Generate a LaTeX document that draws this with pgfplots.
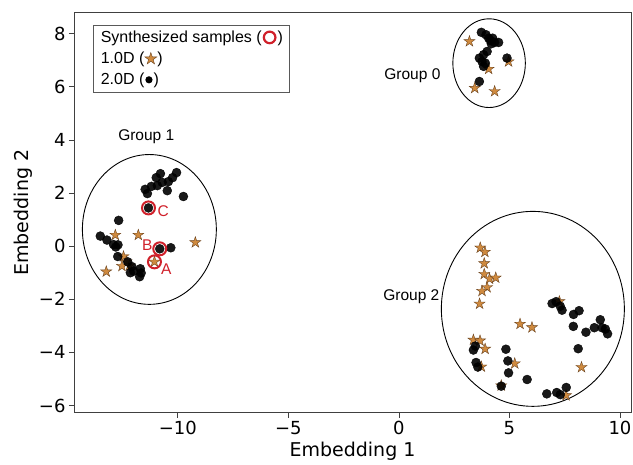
\documentclass[border=0pt]{standalone}
\usepackage{fontspec}
\setmainfont{DejaVu Sans}
\newfontfamily\arial{Liberation Sans}
\usepackage{pgfplots}
\usepackage{pgfplotstable}
\pgfplotsset{compat=1.18}
\definecolor{starfill}{HTML}{CF8A3F}
\definecolor{staredge}{HTML}{6B4420}
\definecolor{synred}{HTML}{D0202A}

% filled five-point star, like matplotlib's '*'
\pgfdeclareplotmark{fstar}{%
  \pgfpathmoveto{\pgfpointpolar{90}{\pgfplotmarksize}}%
  \pgfpathlineto{\pgfpointpolar{126}{0.382\pgfplotmarksize}}%
  \pgfpathlineto{\pgfpointpolar{162}{\pgfplotmarksize}}%
  \pgfpathlineto{\pgfpointpolar{198}{0.382\pgfplotmarksize}}%
  \pgfpathlineto{\pgfpointpolar{234}{\pgfplotmarksize}}%
  \pgfpathlineto{\pgfpointpolar{270}{0.382\pgfplotmarksize}}%
  \pgfpathlineto{\pgfpointpolar{306}{\pgfplotmarksize}}%
  \pgfpathlineto{\pgfpointpolar{342}{0.382\pgfplotmarksize}}%
  \pgfpathlineto{\pgfpointpolar{18}{\pgfplotmarksize}}%
  \pgfpathlineto{\pgfpointpolar{54}{0.382\pgfplotmarksize}}%
  \pgfpathclose
  \pgfusepathqfillstroke
}

% 1.0D samples
\pgfplotstableread{
x y
3.19 7.71
4.06 6.67
4.96 6.95
3.43 5.95
4.33 5.83
-12.83 0.42
-11.79 0.42
-9.21 0.14
-12.46 -0.39
-12.32 -0.58
-12.53 -0.75
-12.19 -0.73
-13.24 -0.96
-11.06 -0.59
3.68 -0.06
3.89 -0.22
3.86 -0.65
3.86 -1.05
4.10 -1.23
4.38 -1.19
3.99 -1.55
3.76 -1.69
3.65 -2.17
5.48 -2.93
6.02 -3.06
3.37 -3.53
3.67 -3.56
3.90 -3.87
3.73 -4.54
5.24 -4.42
8.26 -4.56
7.26 -2.08
7.56 -5.62
4.63 -5.25
}\stars

% 2.0D samples
\pgfplotstableread{
x y
3.73 8.05
3.94 7.96
4.06 7.83
4.14 7.74
4.24 7.83
4.33 7.67
4.51 7.67
4.18 7.62
3.99 7.33
3.83 7.21
3.64 7.08
3.76 6.95
3.91 6.89
3.83 6.77
4.89 7.08
3.64 6.20
-10.79 2.73
-10.06 2.77
-10.24 2.58
-10.43 2.43
-10.71 2.40
-10.98 2.58
-10.93 2.28
-11.20 2.25
-11.48 2.14
-11.38 1.98
-10.48 2.09
-9.75 1.87
-11.33 1.44
-12.68 0.97
-13.51 0.38
-13.21 0.23
-12.91 0.06
-12.71 0.05
-12.81 -0.03
-12.72 -0.39
-12.27 -0.59
-12.08 -0.77
-11.70 -0.85
-12.00 -0.94
-12.15 -1.00
-11.73 -1.15
-11.66 -1.01
-10.32 -0.06
-10.82 -0.10
3.46 -3.76
3.37 -3.91
3.49 -4.38
3.57 -4.55
4.84 -3.88
4.93 -4.32
4.96 -4.77
5.80 -5.02
4.63 -5.27
6.93 -2.16
7.11 -2.09
7.30 -2.26
7.38 -2.41
7.90 -2.57
8.15 -2.43
7.89 -3.02
8.46 -3.24
8.11 -3.86
9.11 -2.77
8.84 -3.07
9.19 -3.07
9.34 -3.12
9.44 -3.30
6.69 -5.56
7.14 -5.51
7.30 -5.59
7.57 -5.32
}\dots

% synthesized samples A, B, C
\pgfplotstableread{
x y
-11.06 -0.59
-10.82 -0.10
-11.33 1.44
}\synth

\begin{document}
\begin{tikzpicture}
\begin{axis}[
  scale only axis, width=557pt, height=400pt,
  xmin=-14.7, xmax=10.5, ymin=-6.27, ymax=8.79,
  xtick={-10,-5,0,5,10}, xticklabels={−10,−5,0,5,10},
  ytick={-6,-4,-2,0,2,4,6,8}, yticklabels={−6,−4,−2,0,2,4,6,8},
  tick pos=left, tick align=outside, major tick length=5pt,
  tick style={black!75, line width=0.8pt},
  axis line style={black!75, line width=0.9pt},
  ticklabel style={font=\fontsize{18}{18}\selectfont},
  xlabel={Embedding 1}, ylabel={Embedding 2},
  label style={font=\fontsize{19}{19}\selectfont},
  clip=false,
]
\addplot[only marks, mark=fstar, mark size=5.8pt,
  mark options={fill=starfill, draw=staredge, line width=0.4pt}] table {\stars};
\addplot[only marks, mark=*, mark size=4.5pt,
  mark options={fill=black, draw=none, opacity=0.9}] table {\dots};
\addplot[only marks, mark=o, mark size=6.5pt,
  mark options={draw=synred, line width=2pt}] table {\synth};

\draw[black, line width=0.9pt] (axis cs:4.08,6.89) ellipse [x radius=1.64, y radius=1.67];
\draw[black, line width=0.9pt] (axis cs:-11.29,0.63) ellipse [x radius=3.03, y radius=2.82];
\draw[black, line width=0.9pt] (axis cs:6.06,-2.36) ellipse [x radius=4.14, y radius=3.67];

\node[font=\arial\fontsize{15.5}{18}\selectfont] at (axis cs:0.61,6.42) {Group 0};
\node[font=\arial\fontsize{15.5}{18}\selectfont] at (axis cs:-11.43,4.12) {Group 1};
\node[font=\arial\fontsize{15.5}{18}\selectfont] at (axis cs:0.56,-1.89) {Group 2};

\node[font=\arial\fontsize{15.5}{18}\selectfont, text=synred] at (axis cs:-10.52,-0.88) {A};
\node[font=\arial\fontsize{15.5}{18}\selectfont, text=synred] at (axis cs:-11.38,0.03) {B};
\node[font=\arial\fontsize{15.5}{18}\selectfont, text=synred] at (axis cs:-10.66,1.30) {C};

\coordinate (leg) at (axis cs:-13.83,8.33);
\coordinate (bl) at (rel axis cs:0,0);
\coordinate (tr) at (rel axis cs:1,1);
\end{axis}

\node[anchor=north west, draw=black!65, line width=1.1pt, fill=white,
  align=left, inner xsep=7pt, inner ysep=5pt,
  font=\arial\fontsize{16}{21}\selectfont] at (leg) {%
  Synthesized samples (\kern1pt\tikz[baseline=-0.55ex]\draw[synred, line width=2.2pt] (0,0) circle (5.8pt);\kern1pt)\\
  1.0D (\kern0.5pt\tikz[baseline=-0.5ex]{\pgfsetplotmarksize{6.3pt}\pgfsetfillcolor{starfill}\pgfsetstrokecolor{staredge}\pgfsetlinewidth{0.4pt}\pgfuseplotmark{fstar}}\kern0.5pt)\\
  2.0D (\kern1pt\tikz[baseline=-0.5ex]\fill[black] (0,0) circle (3.6pt);\kern1pt)};

\pgfresetboundingbox
\path (bl) ++(-74pt,-52pt) coordinate (p1);
\path (tr) ++(2pt,12.7pt) coordinate (p2);
\useasboundingbox (p1) rectangle (p2);
\end{tikzpicture}
\end{document}
